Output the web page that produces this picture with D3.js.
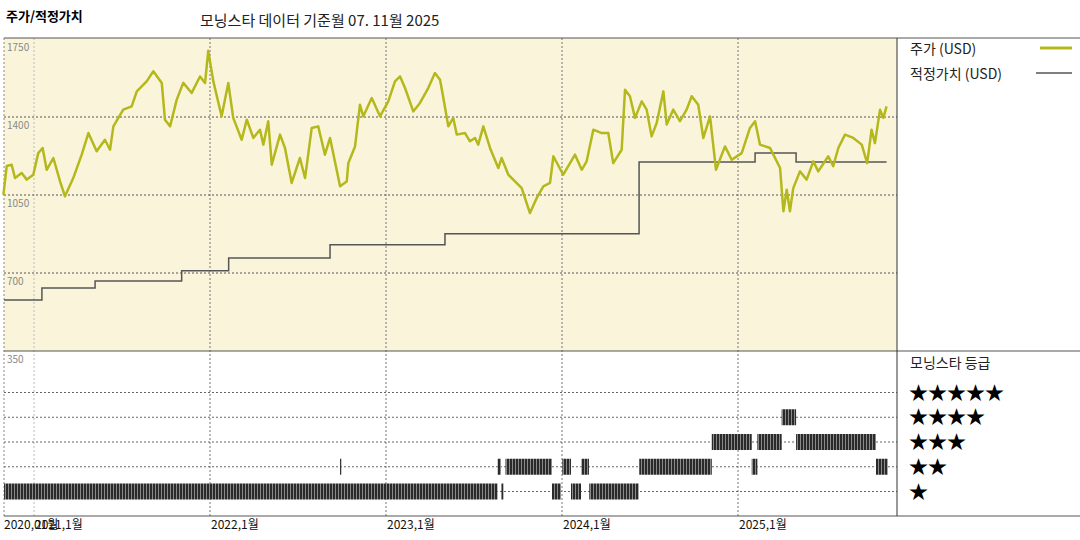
<!DOCTYPE html>
<html>
<head>
<meta charset="utf-8">
<script src="https://cdn.jsdelivr.net/npm/d3@7"></script>
<style>
  body { margin: 0; background: #fff; }
  text { font-family: "Noto Sans CJK KR", "DejaVu Sans", sans-serif; }
</style>
</head>
<body>
<svg width="1080" height="540"></svg>
<script>
// price (USD), time as decimal year
const priceYears = [2020.826, 2020.845, 2020.873, 2020.892, 2020.930, 2020.959, 2020.996, 2021.024, 2021.049, 2021.072,
  2021.110, 2021.148, 2021.176, 2021.223, 2021.271, 2021.309, 2021.356, 2021.403, 2021.432, 2021.451,
  2021.507, 2021.555, 2021.584, 2021.640, 2021.678, 2021.726, 2021.744, 2021.773, 2021.811, 2021.848,
  2021.896, 2021.943, 2021.972, 2021.990, 2022.019, 2022.066, 2022.104, 2022.132, 2022.180, 2022.209,
  2022.246, 2022.284, 2022.303, 2022.331, 2022.351, 2022.398, 2022.426, 2022.464, 2022.511, 2022.540,
  2022.578, 2022.615, 2022.653, 2022.682, 2022.739, 2022.777, 2022.786, 2022.824, 2022.852, 2022.871,
  2022.919, 2022.966, 2023.013, 2023.051, 2023.080, 2023.108, 2023.155, 2023.193, 2023.240, 2023.278,
  2023.307, 2023.326, 2023.354, 2023.382, 2023.402, 2023.449, 2023.477, 2023.506, 2023.524, 2023.553,
  2023.591, 2023.638, 2023.657, 2023.695, 2023.733, 2023.771, 2023.818, 2023.856, 2023.894, 2023.932,
  2023.951, 2024.007, 2024.074, 2024.112, 2024.140, 2024.178, 2024.226, 2024.263, 2024.291, 2024.339,
  2024.358, 2024.386, 2024.415, 2024.453, 2024.481, 2024.509, 2024.538, 2024.576, 2024.595, 2024.632,
  2024.670, 2024.708, 2024.737, 2024.774, 2024.803, 2024.841, 2024.875, 2024.926, 2024.964, 2025.021,
  2025.068, 2025.097, 2025.125, 2025.182, 2025.201, 2025.239, 2025.258, 2025.277, 2025.295, 2025.314,
  2025.352, 2025.390, 2025.428, 2025.456, 2025.513, 2025.541, 2025.570, 2025.608, 2025.655, 2025.703,
  2025.734, 2025.759, 2025.778, 2025.807, 2025.826, 2025.844]
const prices = [1051, 1180, 1186, 1126, 1149, 1119, 1141, 1238, 1261, 1163,
  1216, 1111, 1044, 1126, 1231, 1328, 1246, 1298, 1253, 1358,
  1433, 1448, 1515, 1560, 1605, 1553, 1388, 1358, 1478, 1553,
  1508, 1582, 1553, 1697, 1560, 1403, 1553, 1396, 1298, 1388,
  1306, 1343, 1276, 1381, 1186, 1321, 1261, 1104, 1216, 1126,
  1351, 1358, 1231, 1306, 1089, 1111, 1193, 1268, 1455, 1403,
  1485, 1403, 1470, 1560, 1582, 1530, 1425, 1463, 1530, 1597,
  1567, 1485, 1358, 1396, 1321, 1328, 1291, 1306, 1276, 1358,
  1261, 1171, 1216, 1141, 1111, 1081, 969, 1036, 1089, 1104,
  1224, 1141, 1231, 1163, 1201, 1343, 1328, 1328, 1193, 1253,
  1522, 1493, 1396, 1470, 1433, 1313, 1373, 1515, 1366, 1433,
  1381, 1433, 1493, 1455, 1306, 1403, 1163, 1268, 1208, 1238,
  1351, 1381, 1276, 1261, 1231, 1171, 977, 1074, 977, 1081,
  1156, 1119, 1201, 1156, 1224, 1179, 1261, 1321, 1306, 1276,
  1193, 1343, 1283, 1433, 1396, 1448]

// fair value steps
const fairYears = [2020.83, 2021.045, 2021.347, 2021.839, 2022.106, 2022.682, 2023.335, 2024.438, 2025.097, 2025.330, 2025.844]
const fairValues = [579, 633, 664, 710, 767, 827, 876, 1198, 1238, 1198, 1198]

// star rating periods
const ratingStart = [2020.830, 2023.656, 2022.739, 2023.634, 2023.679, 2023.943, 2024.002, 2024.051, 2024.110, 2024.155,
  2024.439, 2024.851, 2025.078, 2025.110, 2025.248, 2025.330, 2025.784]
const ratingEnd = [2023.634, 2023.668, 2022.747, 2023.653, 2023.943, 2023.994, 2024.051, 2024.108, 2024.153, 2024.436,
  2024.851, 2025.078, 2025.110, 2025.248, 2025.330, 2025.784, 2025.851]
const ratingStars = [1, 1, 2, 2, 2, 1, 2, 1, 2, 1, 2, 3, 2, 3, 4, 3, 2]

const priceTicks = [1750, 1400, 1050, 700, 350]
const yearTicks = [2021, 2022, 2023, 2024, 2025]
const yearLabels = ['2021,1월', '2022,1월', '2023,1월', '2024,1월', '2025,1월']
const starRows = [5, 4, 3, 2, 1]

const svg = d3.select('svg')
const left = 4, right = 897

const x = d3.scaleLinear().domain([2021, 2025]).range([34, 738])
const y = d3.scaleLinear().domain([350, 1750]).range([351, 39])
const yStar = d3.scaleLinear().domain([5, 1]).range([392.5, 491.5])

// backgrounds
svg.append('rect').attr('x', left).attr('y', 38).attr('width', right - left).attr('height', 313)
  .attr('fill', '#faf5da')

// stripe pattern for rating bars
let defs = svg.append('defs')
let pat = defs.append('pattern').attr('id', 'stripes').attr('patternUnits', 'userSpaceOnUse')
  .attr('width', 3).attr('height', 10)
pat.append('rect').attr('width', 3).attr('height', 10).attr('fill', '#2a2a2a')
pat.append('rect').attr('x', 2).attr('width', 1).attr('height', 10).attr('fill', '#8a8a8a')

// grids
svg.selectAll('.vgrid').data(yearTicks).enter().append('line')
  .attr('x1', d => x(d)).attr('x2', d => x(d)).attr('y1', 38).attr('y2', 516)
  .attr('stroke', d => d === 2021 ? '#bbb' : '#777').attr('stroke-dasharray', '2,2').attr('stroke-width', 1)

svg.selectAll('.hgrid').data([1400, 1050, 700]).enter().append('line')
  .attr('x1', left).attr('x2', right).attr('y1', d => y(d)).attr('y2', d => y(d))
  .attr('stroke', '#555').attr('stroke-dasharray', '2,2')

svg.selectAll('.sgrid').data(starRows).enter().append('line')
  .attr('x1', left).attr('x2', right).attr('y1', d => yStar(d)).attr('y2', d => yStar(d))
  .attr('stroke', '#666').attr('stroke-dasharray', '2,2')

svg.append('line').attr('x1', left).attr('x2', left).attr('y1', 38).attr('y2', 516)
  .attr('stroke', '#888').attr('stroke-dasharray', '2,2')

// price tick labels
svg.selectAll('.ptick').data(priceTicks).enter().append('text')
  .attr('x', 7).attr('y', d => y(d) + 12)
  .attr('font-size', 10).attr('fill', '#888')
  .text(d => d)

// rating bars
svg.selectAll('.rbar').data(ratingStars).enter().append('rect')
  .attr('x', (d, i) => x(ratingStart[i]))
  .attr('width', (d, i) => Math.max(1, x(ratingEnd[i]) - x(ratingStart[i])))
  .attr('y', d => yStar(d) - 8).attr('height', 16)
  .attr('fill', 'url(#stripes)')

// fair value
let fair = fairYears.map((d, i) => [d, fairValues[i]])
svg.append('path').datum(fair)
  .attr('d', d3.line().x(d => x(d[0])).y(d => y(d[1])).curve(d3.curveStepAfter))
  .attr('fill', 'none').attr('stroke', '#555').attr('stroke-width', 1.5)

// price
let price = priceYears.map((d, i) => [d, prices[i]])
svg.append('path').datum(price)
  .attr('d', d3.line().x(d => x(d[0])).y(d => y(d[1])))
  .attr('fill', 'none').attr('stroke', '#b4b81c').attr('stroke-width', 2.5)
  .attr('stroke-linejoin', 'round')

// frame
svg.append('line').attr('x1', left).attr('x2', 1080).attr('y1', 38).attr('y2', 38).attr('stroke', '#555')
svg.append('line').attr('x1', left).attr('x2', 1080).attr('y1', 351).attr('y2', 351).attr('stroke', '#555')
svg.append('line').attr('x1', left).attr('x2', 1080).attr('y1', 516).attr('y2', 516).attr('stroke', '#555')
svg.append('line').attr('x1', right).attr('x2', right).attr('y1', 38).attr('y2', 516).attr('stroke', '#333')

// x labels (the first two overlap in the original too)
svg.append('text').attr('x', 4).attr('y', 529).attr('font-size', 12).attr('fill', '#111').text('2020,01월')
svg.selectAll('.xl').data(yearTicks).enter().append('text')
  .attr('x', d => x(d) + 1).attr('y', 529).attr('font-size', 12).attr('fill', '#111')
  .text((d, i) => yearLabels[i])

// titles
svg.append('text').attr('x', 6).attr('y', 21).attr('font-size', 13).attr('font-weight', 'bold').text('주가/적정가치')
svg.append('text').attr('x', 200).attr('y', 26).attr('font-size', 15).attr('fill', '#222').text('모닝스타 데이터 기준월 07. 11월 2025')

// legend
svg.append('text').attr('x', 910).attr('y', 54).attr('font-size', 14).attr('fill', '#222').text('주가 (USD)')
svg.append('line').attr('x1', 1040).attr('x2', 1072).attr('y1', 48).attr('y2', 48).attr('stroke', '#b4b81c').attr('stroke-width', 3)
svg.append('text').attr('x', 910).attr('y', 79).attr('font-size', 14).attr('fill', '#222').text('적정가치 (USD)')
svg.append('line').attr('x1', 1036).attr('x2', 1072).attr('y1', 73).attr('y2', 73).attr('stroke', '#555').attr('stroke-width', 1.5)
svg.append('text').attr('x', 910).attr('y', 368).attr('font-size', 14).attr('fill', '#222').text('모닝스타 등급')
svg.selectAll('.stars').data(starRows).enter().append('text')
  .attr('x', 909).attr('y', d => yStar(d) + 7).attr('font-size', 19).attr('fill', '#000')
  .attr('font-family', 'DejaVu Sans')
  .text(d => '★'.repeat(d))
</script>
</body>
</html>
